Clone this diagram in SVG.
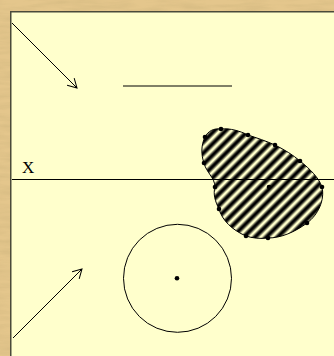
<svg xmlns="http://www.w3.org/2000/svg" width="334" height="356" viewBox="0 0 334 356">
<defs>
  <filter id="wood" x="0" y="0" width="100%" height="100%">
    <feTurbulence type="fractalNoise" baseFrequency="0.03 0.2" numOctaves="3" seed="4"/>
    <feColorMatrix type="matrix" values="0 0 0 0 0.60  0 0 0 0 0.45  0 0 0 0 0.20  0 0 0 1.4 -0.45"/>
  </filter>
  <linearGradient id="stripeGrad" x1="0" y1="0" x2="1" y2="0">
    <stop offset="0" stop-color="#ffffcc"/>
    <stop offset="0.08" stop-color="#ffffcc"/>
    <stop offset="0.38" stop-color="#000"/>
    <stop offset="0.62" stop-color="#000"/>
    <stop offset="0.92" stop-color="#ffffcc"/>
    <stop offset="1" stop-color="#ffffcc"/>
  </linearGradient>
  <pattern id="hatch" patternUnits="userSpaceOnUse" width="8" height="8" patternTransform="rotate(45)">
    <rect width="8" height="8" fill="url(#stripeGrad)"/>
  </pattern>
  <marker id="openArrow" viewBox="-11 -6 12 12" refX="0" refY="0" markerWidth="12" markerHeight="12" markerUnits="userSpaceOnUse" orient="auto">
    <path d="M -9,-5 L 0,0 L -9,5" fill="none" stroke="#000" stroke-width="1"/>
  </marker>
  <style>
    .ln { stroke: #000; stroke-width: 1; fill: none; }
    .dot { fill: #000; }
  </style>
</defs>

<g id="background">
  <rect width="334" height="356" fill="#e4c68c"/>
  <rect width="334" height="356" filter="url(#wood)" opacity="0.6"/>
  <rect x="10" y="11" width="324" height="345" fill="#ffffcc"/>
  <path d="M 10.75,356 L 10.75,11.75 L 334,11.75" fill="none" stroke="#4a4a3a" stroke-width="1.5"/>
</g>

<g id="connectors">
  <line class="ln" x1="12" y1="23" x2="77" y2="88" marker-end="url(#openArrow)"/>
  <line class="ln" x1="13" y1="338" x2="82" y2="269" marker-end="url(#openArrow)"/>
</g>

<g id="segment">
  <line class="ln" x1="123" y1="86" x2="232" y2="86" stroke="#333"/>
</g>

<g id="blob">
  <path d="M 205,137 C 208,131 214,128 221,129 C 230,128 240,131 248,135 C 257,138 266,141 275,145 C 285,150 293,155 300,161 C 310,169 319,178 322,187 C 325,200 318,215 307,223 C 295,232 281,238 268,238 C 260,239 252,238 246,236 C 232,230 222,220 219,209 C 215,201 213,194 215,187 C 215,178 206,172 204,163 C 201,155 201,145 205,137 Z" fill="url(#hatch)" stroke="#000" stroke-width="1"/>
  <circle class="dot" cx="205" cy="137" r="2.3"/>
  <circle class="dot" cx="221" cy="129" r="2.3"/>
  <circle class="dot" cx="248" cy="135" r="2.3"/>
  <circle class="dot" cx="275" cy="145" r="2.3"/>
  <circle class="dot" cx="300" cy="161" r="2.3"/>
  <circle class="dot" cx="322" cy="187" r="2.3"/>
  <circle class="dot" cx="307" cy="223" r="2.3"/>
  <circle class="dot" cx="268" cy="238" r="2.3"/>
  <circle class="dot" cx="246" cy="236" r="2.3"/>
  <circle class="dot" cx="219" cy="209" r="2.3"/>
  <circle class="dot" cx="215" cy="187" r="2.3"/>
  <circle class="dot" cx="204" cy="163" r="2.3"/>
  <circle class="dot" cx="269" cy="187" r="2.3"/>
</g>

<g id="axis">
  <line class="ln" x1="12" y1="179.5" x2="334" y2="179.5" stroke="#222"/>
  <text x="22" y="173" font-family="'Liberation Serif', serif" font-size="17" fill="#000">X</text>
</g>

<g id="circle">
  <circle class="ln" cx="177.5" cy="278.3" r="54"/>
  <circle class="dot" cx="177" cy="278.3" r="2.3"/>
</g>
</svg>
